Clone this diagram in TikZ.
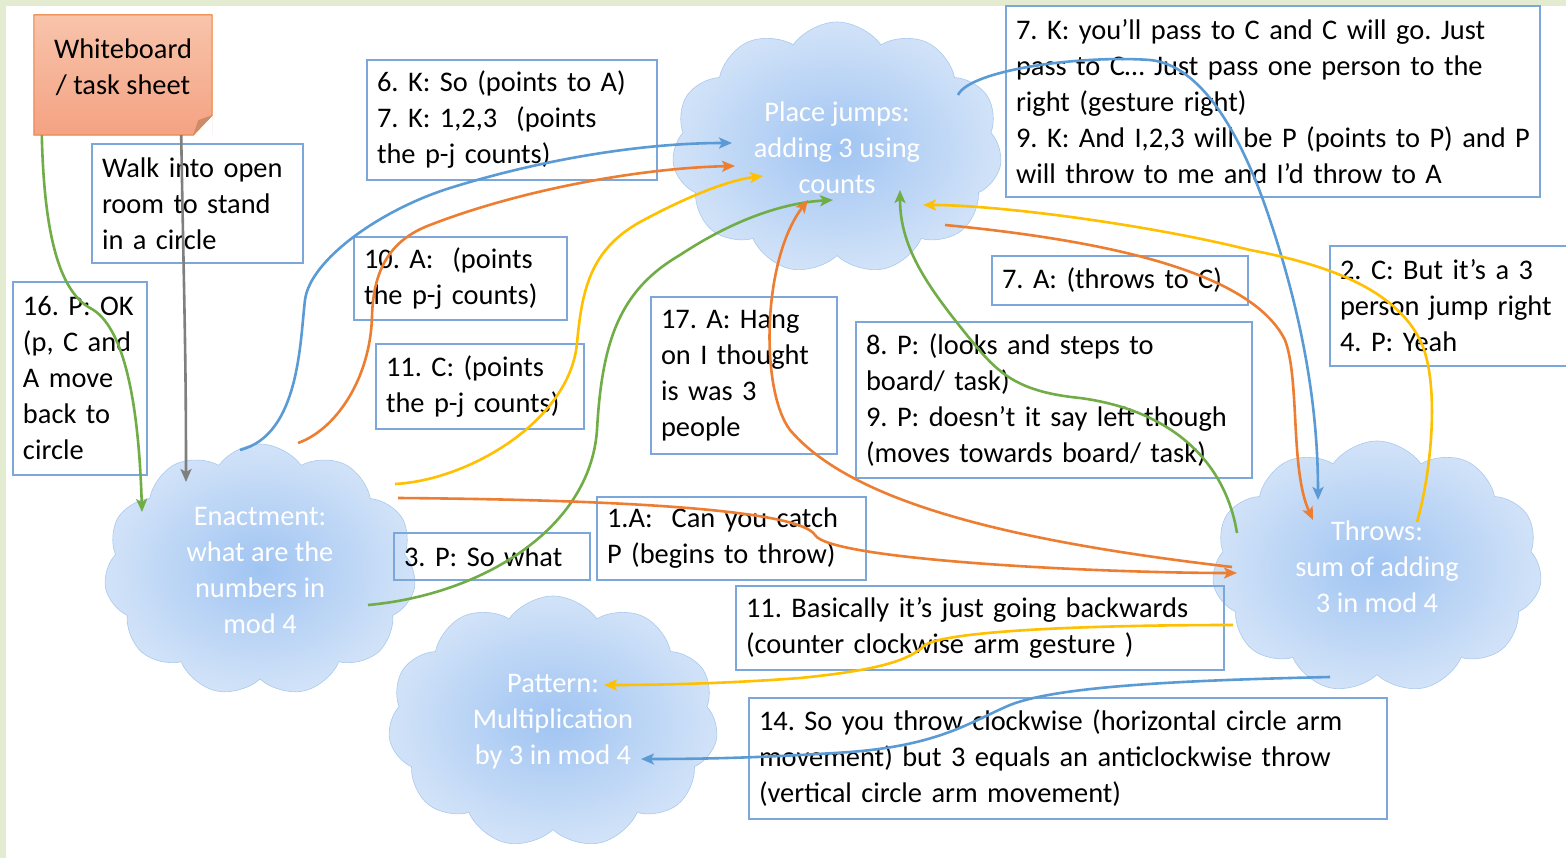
\documentclass[tikz,border=0pt]{standalone}
\usepackage{fontspec}
\setmainfont{Carlito}
\frenchspacing
\usetikzlibrary{shapes.symbols,arrows.meta}
\definecolor{Frame}{HTML}{E3EBD0}
\definecolor{BoxLine}{HTML}{7BA7DB}
\definecolor{CloudIn}{HTML}{A0C4F2}
\definecolor{CloudOut}{HTML}{D2E3F8}
\definecolor{CloudLine}{HTML}{A9C9EE}
\definecolor{ArcBlue}{HTML}{5B9BD5}
\definecolor{ArcOrange}{HTML}{ED7D31}
\definecolor{ArcYellow}{HTML}{FFC000}
\definecolor{ArcGreen}{HTML}{70AD47}
\definecolor{ArcGrey}{HTML}{7F7F7F}
\definecolor{NoteTop}{HTML}{F8C4AB}
\definecolor{NoteBottom}{HTML}{F4A282}
\definecolor{NoteFold}{HTML}{CD8B69}

\begin{document}
\begin{tikzpicture}[x=1pt, y=-1pt, font=\fontsize{28.4}{36}\selectfont,
    note/.style={draw=BoxLine, line width=1.3pt, align=left, inner xsep=10pt, inner ysep=0pt},
    idea/.style={cloud, cloud puffs=11, cloud puff arc=110, cloud ignores aspect, draw=CloudLine, line width=0.6pt,
        inner color=CloudIn, outer color=CloudOut, text=white, align=center,
        minimum width=330pt, minimum height=252pt, inner sep=0pt},
    sticky/.style={top color=NoteTop, bottom color=NoteBottom, align=center,
        minimum width=178pt, minimum height=120pt, text depth=17pt},
    link/.style={line width=2.6pt, -{Stealth[length=13pt, width=11pt, inset=3pt]}}]

    % page and frame
    \useasboundingbox (0,0) rectangle (1566,858);
    \fill[Frame] (0,0) rectangle (1566,858);
    \fill[white] (6,6) rectangle (1566,858);

    % the sticky note
    \node[sticky] (board) at (123,75) {Whiteboard\\/ task sheet};
    \fill[white] ([yshift=20pt]board.south east) -- (board.south east) -- ([xshift=-19pt]board.south east) -- cycle;
    \draw[ArcOrange, line width=1pt] (board.north west) -- (board.north east) -- ([yshift=20pt]board.south east)
        -- ([xshift=-19pt]board.south east) -- (board.south west) -- cycle;
    \fill[NoteFold] ([yshift=20pt]board.south east) -- ([xshift=-14pt, yshift=15pt]board.south east)
        -- ([xshift=-19pt]board.south east) -- cycle;

    % the four ideas
    \node[idea] (place) at (837,148) {Place jumps:\\adding 3 using\\counts};
    \node[idea, minimum width=312pt] (enact) at (260,570) {Enactment:\\what are the\\numbers in\\mod 4};
    \node[idea] (pattern) at (553,722) {Pattern:\\Multiplication\\by 3 in mod 4};
    \node[idea] (throws) at (1377,567) {Throws:\\sum of adding\\3 in mod 4};

    % the transcript boxes
    \node[note, text width=191pt, minimum height=119pt] (walk) at (197.5,203.5) {Walk into open\\room to stand\\in a circle};
    \node[note, text width=114pt, minimum height=193pt] (ok) at (80,378.5) {16. P: OK\\(p, C and\\A move\\back to\\circle};
    \node[note, text width=270pt, minimum height=120pt] (kso) at (512,120) {6. K: So (points to A)\\7. K: 1,2,3\ \ (points\\the p-j counts)};
    \node[note, text width=193pt, minimum height=83pt] (apoints) at (460.5,278.5) {10. A:\ \ (points\\the p-j counts)};
    \node[note, text width=188pt, minimum height=85pt] (cpoints) at (480,386.5) {11. C: (points\\the p-j counts)};
    \node[note, text width=166pt, minimum height=157pt] (hang) at (744,375.5) {17. A: Hang\\on I thought\\is was 3\\people};
    \node[note, text width=514pt, minimum height=191pt] (kpass) at (1273,101.5) {7. K: you’ll pass to C and C will go. Just\\pass to C… Just pass one person to the\\right (gesture right)\\9. K: And I,2,3 will be P (points to P) and P\\will throw to me and I’d throw to A};
    \node[note, text width=236pt, minimum height=49pt] (athrows) at (1120,280.5) {7. A: (throws to C)};
    \node[note, text width=376pt, minimum height=156pt] (plooks) at (1054,400) {8. P: (looks and steps to\\board/ task)\\9. P: doesn’t it say left though\\(moves towards board/ task)};
    \node[note, text width=250pt, minimum height=120pt] (cjump) at (1465,306) {2. C: But it’s a 3\\person jump right\\4. P: Yeah};
    \node[note, text width=176pt, minimum height=47pt] (sowhat) at (492,556.5) {3. P: So what};
    \node[note, text width=249pt, minimum height=83pt] (catch) at (731.5,538.5) {1.A:\ \ Can you catch\\P (begins to throw)};
    \node[note, text width=468pt, minimum height=84pt] (back) at (980,628) {11. Basically it’s just going backwards\\(counter clockwise arm gesture )};
    \node[note, text width=618pt, minimum height=121pt] (clock) at (1068,758.5) {14. So you throw clockwise (horizontal circle arm\\movement) but 3 equals an anticlockwise throw\\(vertical circle arm movement)};

    % connectors
    \draw[link, ArcGreen] ([xshift=8pt]board.south west) .. controls (44,230) and (58,290) .. (90,308)
        .. controls (118,322) and (138,380) .. ([shift={(-118,-58)}]enact.center);
    \draw[link, ArcGrey] ([xshift=-31pt]board.south east) .. controls (184,300) and (186,350) .. ([shift={(-74,-88)}]enact.center);
    \draw[link, ArcBlue] ([shift={(-20,-120)}]enact.center) .. controls (300,435) and (300,340) .. (305,300)
        .. controls (310,260) and (380,210) .. (450,188) .. controls (540,160) and (640,143) .. ([shift={(-105,-5)}]place.center);
    \draw[link, ArcOrange] ([shift={(38,-127)}]enact.center) .. controls (335,430) and (370,380) .. (372,317)
        .. controls (373,270) and (390,240) .. (430,225) .. controls (520,190) and (640,168) .. ([shift={(-102,18)}]place.center);
    \draw[link, ArcYellow] ([shift={(135,-86)}]enact.center) .. controls (470,480) and (570,420) .. (577,343)
        .. controls (582,290) and (590,250) .. (640,222) .. controls (690,195) and (730,180) .. ([shift={(-74,28)}]place.center);
    \draw[link, ArcGreen] ([shift={(108,35)}]enact.center) .. controls (480,595) and (590,530) .. (597,430)
        .. controls (602,340) and (620,290) .. (680,255) .. controls (730,222) and (780,203) .. ([shift={(-4,52)}]place.center);
    \draw[link, ArcOrange] ([shift={(138,-72)}]enact.center) .. controls (650,500) and (800,512) .. (815,535)
        .. controls (830,560) and (1100,573) .. ([shift={(-140,6)}]throws.center);
    \draw[link, ArcOrange] ([shift={(-145,0)}]throws.center) .. controls (1000,540) and (850,500) .. (790,430)
        .. controls (760,390) and (762,260) .. ([shift={(-29,52)}]place.center);
    \draw[link, ArcGreen] ([shift={(-140,-34)}]throws.center) .. controls (1225,460) and (1170,410) .. (1080,398)
        .. controls (1020,392) and (1000,375) .. (975,345) .. controls (930,290) and (900,250) .. ([shift={(63,42)}]place.center);
    \draw[link, ArcOrange] ([shift={(108,77)}]place.center) .. controls (1100,240) and (1250,270) .. (1285,340)
        .. controls (1300,380) and (1290,470) .. ([shift={(-64,-47)}]throws.center);
    \draw[link, ArcBlue] ([shift={(121,-53)}]place.center) .. controls (970,70) and (1080,55) .. (1150,60)
        .. controls (1200,65) and (1240,130) .. (1270,220) .. controls (1300,310) and (1318,400) .. ([shift={(-59,-67)}]throws.center);
    \draw[link, ArcYellow] ([shift={(40,-45)}]throws.center) .. controls (1432,470) and (1440,380) .. (1420,340)
        .. controls (1395,290) and (1330,265) .. (1250,250) .. controls (1150,225) and (1000,205) .. ([shift={(86,57)}]place.center);
    \draw[link, ArcYellow] ([shift={(-144,58)}]throws.center) .. controls (1100,625) and (950,630) .. (925,645)
        .. controls (910,660) and (880,670) .. (800,678) .. controls (720,684) and (650,685) .. ([shift={(51,-37)}]pattern.center);
    \draw[link, ArcBlue] ([shift={(-47,110)}]throws.center) .. controls (1200,680) and (1060,685) .. (1010,705)
        .. controls (970,722) and (940,745) .. (850,752) .. controls (760,758) and (700,759) .. ([shift={(88,37)}]pattern.center);
\end{tikzpicture}
\end{document}
